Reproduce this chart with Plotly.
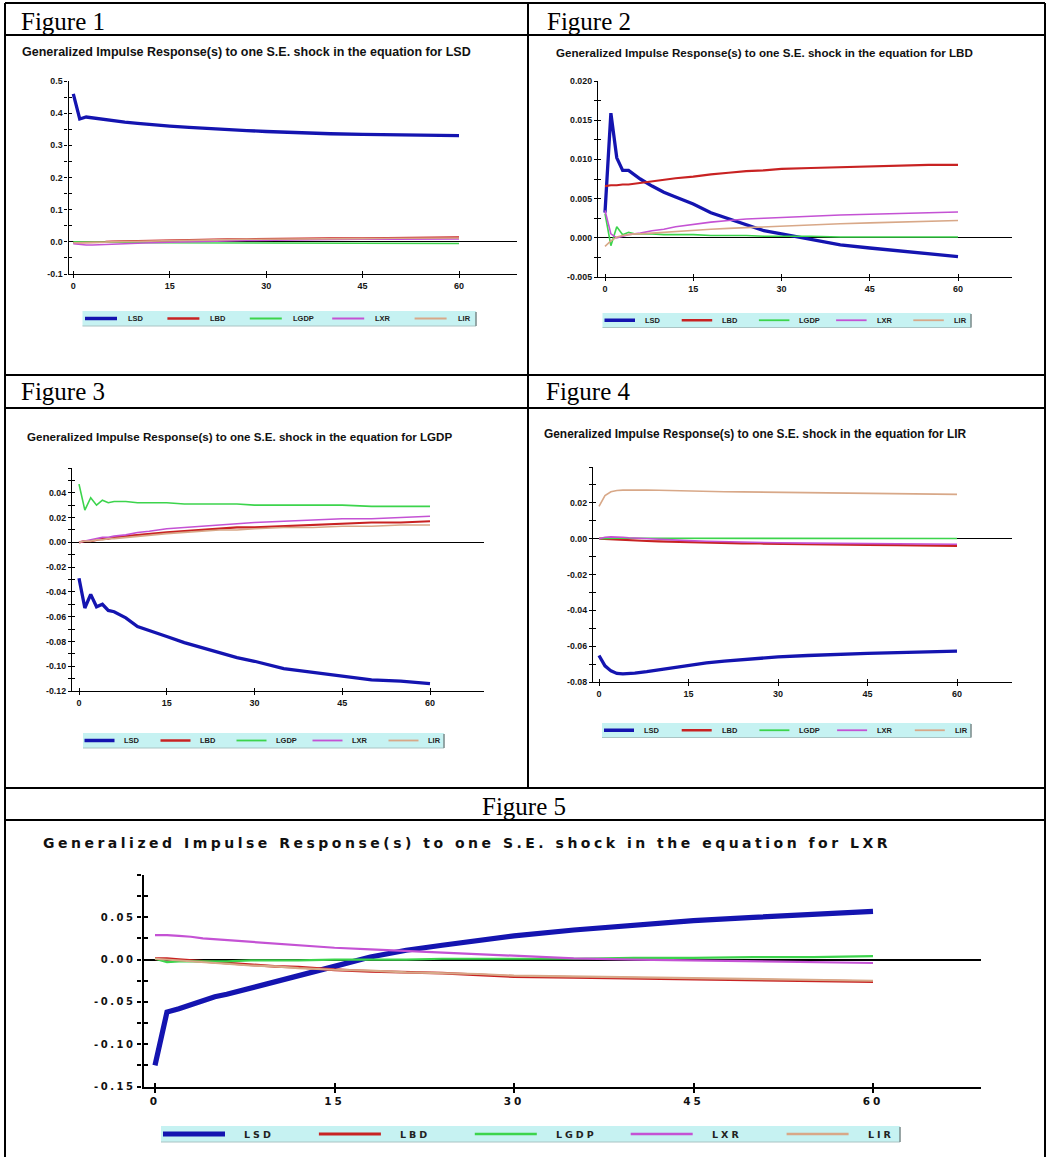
import plotly.graph_objects as go

W, H = 1047, 1157

# ---------------- data ----------------
HORIZON = [0, 1, 2, 3, 4, 5, 6, 8, 10, 12, 15, 18, 21, 24, 27, 30, 35, 40, 45, 50, 55, 60]
SERIES = ["LSD", "LBD", "LGDP", "LXR", "LIR"]
SHOCKS = ["LSD", "LBD", "LGDP", "LIR", "LXR"]
FIGURE_LABELS = ["Figure 1", "Figure 2", "Figure 3", "Figure 4", "Figure 5"]
X_TICKS = [0, 15, 30, 45, 60]
X_TICK_LABELS = ["0", "15", "30", "45", "60"]

# Figure 1: shock in LSD
F1_LSD = [0.460, 0.382, 0.388, 0.385, 0.382, 0.379, 0.377, 0.372, 0.368, 0.364, 0.360, 0.356, 0.352, 0.349, 0.346, 0.343, 0.339, 0.336, 0.334, 0.332, 0.330, 0.330]
F1_LBD = [-0.002, -0.002, -0.001, -0.001, 0.000, 0.000, 0.001, 0.002, 0.003, 0.004, 0.005, 0.006, 0.007, 0.008, 0.008, 0.009, 0.010, 0.011, 0.011, 0.012, 0.013, 0.014]
F1_LGDP = [0.000, 0.000, -0.001, -0.001, -0.001, -0.001, -0.001, -0.002, -0.002, -0.003, -0.003, -0.004, -0.004, -0.005, -0.005, -0.005, -0.005, -0.005, -0.005, -0.005, -0.005, -0.005]
F1_LXR = [-0.006, -0.009, -0.010, -0.010, -0.009, -0.008, -0.008, -0.006, -0.004, -0.003, -0.001, 0.001, 0.002, 0.003, 0.004, 0.005, 0.006, 0.007, 0.008, 0.008, 0.009, 0.009]
F1_LIR = [-0.003, -0.003, -0.002, -0.002, -0.001, -0.001, 0.000, 0.001, 0.002, 0.003, 0.004, 0.005, 0.006, 0.007, 0.008, 0.008, 0.009, 0.010, 0.010, 0.011, 0.011, 0.012]
F1_YTICKS = [-0.1, -0.05, 0.0, 0.05, 0.1, 0.15, 0.2, 0.25, 0.3, 0.35, 0.4, 0.45, 0.5]
F1_YLABELS = ["-0.1", "", "0.0", "", "0.1", "", "0.2", "", "0.3", "", "0.4", "", "0.5"]

# Figure 2: shock in LBD
F2_LSD = [0.0032, 0.0159, 0.0102, 0.0086, 0.0086, 0.0080, 0.0075, 0.0066, 0.0058, 0.0052, 0.0043, 0.0032, 0.0024, 0.0016, 0.0009, 0.0005, -0.0002, -0.0009, -0.0013, -0.0017, -0.0020, -0.0024]
F2_LBD = [0.0066, 0.0067, 0.0067, 0.0068, 0.0068, 0.0069, 0.0070, 0.0072, 0.0074, 0.0076, 0.0078, 0.0081, 0.0083, 0.0085, 0.0086, 0.0088, 0.0089, 0.0090, 0.0091, 0.0092, 0.0093, 0.0093]
F2_LGDP = [0.0031, -0.0010, 0.0014, 0.0004, 0.0007, 0.0005, 0.0005, 0.0005, 0.0004, 0.0004, 0.0004, 0.0003, 0.0003, 0.0003, 0.0002, 0.0002, 0.0002, 0.0001, 0.0001, 0.0001, 0.0001, 0.0001]
F2_LXR = [0.0035, 0.0005, 0.0000, 0.0002, 0.0004, 0.0005, 0.0006, 0.0009, 0.0011, 0.0014, 0.0017, 0.0020, 0.0022, 0.0024, 0.0025, 0.0026, 0.0028, 0.0029, 0.0030, 0.0031, 0.0032, 0.0033]
F2_LIR = [-0.0011, -0.0004, 0.0001, 0.0003, 0.0004, 0.0005, 0.0005, 0.0006, 0.0007, 0.0008, 0.0010, 0.0011, 0.0012, 0.0013, 0.0014, 0.0015, 0.0017, 0.0018, 0.0019, 0.0020, 0.0021, 0.0022]
F2_YTICKS = [-0.005, -0.0025, 0.0, 0.0025, 0.005, 0.0075, 0.01, 0.0125, 0.015, 0.0175, 0.02]
F2_YLABELS = ["-0.005", "", "0.000", "", "0.005", "", "0.010", "", "0.015", "", "0.020"]

# Figure 3: shock in LGDP
F3_LSD = [-0.029, -0.053, -0.042, -0.052, -0.050, -0.055, -0.056, -0.061, -0.068, -0.071, -0.076, -0.081, -0.085, -0.089, -0.093, -0.096, -0.102, -0.105, -0.108, -0.111, -0.112, -0.114]
F3_LBD = [0.000, 0.001, 0.001, 0.002, 0.003, 0.003, 0.004, 0.005, 0.006, 0.007, 0.008, 0.009, 0.010, 0.011, 0.012, 0.012, 0.013, 0.014, 0.015, 0.016, 0.016, 0.017]
F3_LGDP = [0.047, 0.026, 0.036, 0.030, 0.034, 0.032, 0.033, 0.033, 0.032, 0.032, 0.032, 0.031, 0.031, 0.031, 0.031, 0.030, 0.030, 0.030, 0.030, 0.029, 0.029, 0.029]
F3_LXR = [0.000, 0.001, 0.002, 0.003, 0.004, 0.004, 0.005, 0.006, 0.008, 0.009, 0.011, 0.012, 0.013, 0.014, 0.015, 0.016, 0.017, 0.018, 0.019, 0.019, 0.020, 0.021]
F3_LIR = [0.000, 0.001, 0.001, 0.002, 0.002, 0.003, 0.003, 0.004, 0.005, 0.006, 0.007, 0.008, 0.009, 0.010, 0.010, 0.011, 0.012, 0.012, 0.013, 0.013, 0.014, 0.014]
F3_YTICKS = [-0.12, -0.11, -0.10, -0.09, -0.08, -0.07, -0.06, -0.05, -0.04, -0.03, -0.02, -0.01, 0.0, 0.01, 0.02, 0.03, 0.04, 0.05, 0.06]
F3_YLABELS = ["-0.12", "", "-0.10", "", "-0.08", "", "-0.06", "", "-0.04", "", "-0.02", "", "0.00", "", "0.02", "", "0.04", "", ""]

# Figure 4: shock in LIR
F4_LSD = [-0.0652, -0.0710, -0.0738, -0.0752, -0.0755, -0.0753, -0.0750, -0.0742, -0.0732, -0.0722, -0.0705, -0.0693, -0.0683, -0.0675, -0.0668, -0.0660, -0.0652, -0.0645, -0.0640, -0.0636, -0.0631, -0.0628]
F4_LBD = [0.0000, -0.0002, -0.0004, -0.0006, -0.0008, -0.0010, -0.0011, -0.0013, -0.0015, -0.0017, -0.0020, -0.0022, -0.0024, -0.0026, -0.0027, -0.0029, -0.0031, -0.0033, -0.0035, -0.0036, -0.0038, -0.0040]
F4_LGDP = [0.0000, 0.0002, 0.0002, 0.0002, 0.0002, 0.0002, 0.0002, 0.0002, 0.0002, 0.0002, 0.0002, 0.0002, 0.0001, 0.0001, 0.0001, 0.0001, 0.0001, 0.0001, 0.0001, 0.0001, 0.0001, 0.0001]
F4_LXR = [0.0000, 0.0008, 0.0010, 0.0010, 0.0008, 0.0005, 0.0003, -0.0001, -0.0004, -0.0007, -0.0011, -0.0014, -0.0017, -0.0019, -0.0021, -0.0023, -0.0025, -0.0027, -0.0028, -0.0029, -0.0030, -0.0031]
F4_LIR = [0.0180, 0.0240, 0.0262, 0.0269, 0.0271, 0.0272, 0.0272, 0.0271, 0.0270, 0.0268, 0.0265, 0.0263, 0.0262, 0.0261, 0.0260, 0.0259, 0.0257, 0.0255, 0.0253, 0.0251, 0.0249, 0.0247]
F4_YTICKS = [-0.08, -0.07, -0.06, -0.05, -0.04, -0.03, -0.02, -0.01, 0.0, 0.01, 0.02, 0.03, 0.04]
F4_YLABELS = ["-0.08", "", "-0.06", "", "-0.04", "", "-0.02", "", "0.00", "", "0.02", "", ""]

# Figure 5: shock in LXR
F5_LSD = [-0.125, -0.062, -0.058, -0.053, -0.048, -0.044, -0.041, -0.034, -0.027, -0.020, -0.008, 0.003, 0.011, 0.017, 0.023, 0.028, 0.035, 0.041, 0.046, 0.050, 0.054, 0.057]
F5_LBD = [0.001, 0.001, 0.000, -0.001, -0.002, -0.003, -0.004, -0.006, -0.008, -0.009, -0.012, -0.014, -0.015, -0.016, -0.018, -0.020, -0.021, -0.022, -0.023, -0.024, -0.025, -0.026]
F5_LGDP = [0.001, -0.003, -0.002, -0.002, -0.002, -0.002, -0.002, -0.001, -0.001, -0.001, 0.000, 0.000, 0.000, 0.001, 0.001, 0.001, 0.001, 0.002, 0.002, 0.003, 0.003, 0.004]
F5_LXR = [0.029, 0.029, 0.028, 0.027, 0.025, 0.024, 0.023, 0.021, 0.019, 0.017, 0.014, 0.012, 0.010, 0.008, 0.006, 0.004, 0.0015, 0.000, -0.001, -0.002, -0.003, -0.004]
F5_LIR = [0.001, 0.000, -0.001, -0.002, -0.003, -0.004, -0.005, -0.007, -0.008, -0.010, -0.012, -0.013, -0.015, -0.016, -0.017, -0.019, -0.020, -0.021, -0.022, -0.023, -0.024, -0.025]
F5_YTICKS = [-0.15, -0.125, -0.10, -0.075, -0.05, -0.025, 0.0, 0.025, 0.05, 0.075, 0.10]
F5_YLABELS = ["-0.15", "", "-0.10", "", "-0.05", "", "0.00", "", "0.05", "", ""]

PANEL_DATA = [
    ([F1_LSD, F1_LBD, F1_LGDP, F1_LXR, F1_LIR], F1_YTICKS, F1_YLABELS),
    ([F2_LSD, F2_LBD, F2_LGDP, F2_LXR, F2_LIR], F2_YTICKS, F2_YLABELS),
    ([F3_LSD, F3_LBD, F3_LGDP, F3_LXR, F3_LIR], F3_YTICKS, F3_YLABELS),
    ([F4_LSD, F4_LBD, F4_LGDP, F4_LXR, F4_LIR], F4_YTICKS, F4_YLABELS),
    ([F5_LSD, F5_LBD, F5_LGDP, F5_LXR, F5_LIR], F5_YTICKS, F5_YLABELS),
]

# ---------------- styles ----------------
COLORS = ["#1414b0", "#c82222", "#3cd44c", "#c452d4", "#d8a888"]
SMALL_WIDTHS = [3.3, 2.2, 1.6, 1.6, 1.6]
BIG_WIDTHS = [5.2, 2.8, 2.2, 2.2, 2.2]
SMALL_KEY_WIDTHS = [3.5, 2.5, 1.8, 1.8, 1.8]
BIG_KEY_WIDTHS = [5.0, 3.0, 2.4, 2.4, 2.4]
LEGEND_BG = "#c6f2f2"
SANS = "Liberation Sans, Arial, sans-serif"
WIDE = "DejaVu Sans, Verdana, sans-serif"
SERIF = "Liberation Serif, Times New Roman, serif"

# pixel geometry of each panel
PANELS = [
    dict(ax=(68.5, 517), ay=(81, 274), x0=73.3, x60=459, yr=(-0.1, 0.5),
         title=(20, 52, 12.5), head=(19, 21, "left"),
         leg=dict(box=(82.5, 311, 476, 326), start=85, pitch=82.4, length=32, toff=42), big=False),
    dict(ax=(598, 1012), ay=(81, 277), x0=605, x60=958, yr=(-0.005, 0.020),
         title=(554, 52, 11.6), head=(545, 21, "left"),
         leg=dict(box=(602.5, 313, 971, 327.5), start=604.5, pitch=77.2, length=30.5, toff=39.5), big=False),
    dict(ax=(72, 484), ay=(468, 691), x0=79, x60=430, yr=(-0.12, 0.06),
         title=(25, 436, 11.6), head=(19, 392, "left"),
         leg=dict(box=(83, 733, 444, 748), start=84.5, pitch=76, length=30, toff=38), big=False),
    dict(ax=(593, 1012), ay=(467, 682), x0=599, x60=957, yr=(-0.08, 0.04),
         title=(542, 434, 11.9), head=(544, 392, "left"),
         leg=dict(box=(602, 723, 971, 737.5), start=604, pitch=77.7, length=30, toff=39), big=False),
    dict(ax=(143.5, 981), ay=(875, 1086.5), x0=155, x60=873, yr=(-0.15, 0.10),
         title=(41, 843, 14), head=(524, 806, "center"),
         leg=dict(box=(161, 1126, 900, 1142), start=163, pitch=155.9, length=62, toff=80), big=True),
]


def px_x(v):
    return v / W


def px_y(v):
    return 1 - v / H


def spaced(txt, sp):
    if not txt:
        return txt
    return '<span style="letter-spacing:%spx">%s</span>' % (sp, txt)


fig = go.Figure()
annotations = []
shapes = []
layout = dict(
    width=W, height=H, autosize=False,
    margin=dict(l=0, r=0, t=0, b=0, autoexpand=False),
    paper_bgcolor="white", plot_bgcolor="rgba(0,0,0,0)",
    showlegend=False,
)

for i, (p, (vals, yticks, ylabels)) in enumerate(zip(PANELS, PANEL_DATA), start=1):
    big = p["big"]
    unit = (p["x60"] - p["x0"]) / 60.0
    xr = [(p["ax"][0] - p["x0"]) / unit, (p["ax"][1] - p["x0"]) / unit]
    xdom = [px_x(p["ax"][0]), px_x(p["ax"][1])]
    ydom = [px_y(p["ay"][1]), px_y(p["ay"][0])]
    xname = "x" if i == 1 else "x%d" % i
    yname = "y" if i == 1 else "y%d" % i
    xkey = "xaxis" if i == 1 else "xaxis%d" % i
    ykey = "yaxis" if i == 1 else "yaxis%d" % i
    k = i + 5

    widths = BIG_WIDTHS if big else SMALL_WIDTHS
    for s, name in enumerate(SERIES):
        fig.add_trace(go.Scatter(
            x=HORIZON, y=vals[s], mode="lines", name=name,
            line=dict(color=COLORS[s], width=widths[s]),
            xaxis=xname, yaxis=yname, hoverinfo="skip",
        ))
    # overlay subplot used for the inner half of the crossing tick marks
    fig.add_trace(go.Scatter(x=[None], y=[None], mode="lines",
                             xaxis="x%d" % k, yaxis="y%d" % k, hoverinfo="skip"))

    axw = 2.2 if big else 1.4
    tlen = 4 if big else 3
    if big:
        ytick_font = dict(family=WIDE, size=10, color="#111", weight="bold")
        xtick_font = dict(family=WIDE, size=10.5, color="#111", weight="bold")
        ytext = [spaced(t, 2.5) for t in ylabels]
        xtext = [spaced(t, 3) for t in X_TICK_LABELS]
    else:
        ytick_font = dict(family=SANS, size=8.8, color="#151515", weight="bold")
        xtick_font = dict(family=SANS, size=9, color="#151515", weight="bold")
        ytext = ylabels
        xtext = X_TICK_LABELS

    layout[xkey] = dict(
        domain=xdom, range=xr, anchor=yname, showgrid=False, zeroline=False,
        showline=True, linecolor="black", linewidth=axw,
        tickmode="array", tickvals=X_TICKS, ticktext=xtext,
        ticks="outside", ticklen=tlen, tickwidth=axw, tickcolor="black",
        tickfont=xtick_font, fixedrange=True,
    )
    layout[ykey] = dict(
        domain=ydom, range=list(p["yr"]), anchor=xname, showgrid=False,
        zeroline=True, zerolinecolor="black", zerolinewidth=1.6 if big else 1.3,
        showline=True, linecolor="black", linewidth=axw,
        tickmode="array", tickvals=yticks, ticktext=ytext,
        ticks="outside", ticklen=tlen, tickwidth=axw, tickcolor="black",
        tickfont=ytick_font, fixedrange=True,
    )
    layout["xaxis%d" % k] = dict(
        overlaying=xname, anchor="y%d" % k, range=xr, showgrid=False, zeroline=False,
        showline=False, tickmode="array", tickvals=X_TICKS, showticklabels=False,
        ticks="inside", ticklen=tlen, tickwidth=axw, tickcolor="black", fixedrange=True,
    )
    layout["yaxis%d" % k] = dict(
        overlaying=yname, anchor="x%d" % k, range=list(p["yr"]), showgrid=False,
        zeroline=False, showline=False, tickmode="array", tickvals=yticks,
        showticklabels=False, ticks="inside", ticklen=tlen, tickwidth=axw,
        tickcolor="black", fixedrange=True, side="left",
    )

    # key (legend strip) below each chart
    lg = p["leg"]
    bl, bt, br, bb = lg["box"]
    shapes.append(dict(type="rect", xref="paper", yref="paper",
                       x0=px_x(bl), x1=px_x(br), y0=px_y(bb), y1=px_y(bt),
                       fillcolor=LEGEND_BG, line=dict(width=0), layer="below"))
    shapes.append(dict(type="line", xref="paper", yref="paper",
                       x0=px_x(bl), x1=px_x(br), y0=px_y(bb), y1=px_y(bb),
                       line=dict(color="#a9c4c4", width=1.2)))
    shapes.append(dict(type="line", xref="paper", yref="paper",
                       x0=px_x(br), x1=px_x(br), y0=px_y(bb), y1=px_y(bt + 1),
                       line=dict(color="#7f9090", width=1.6)))
    ymid = (bt + bb) / 2.0
    kw = BIG_KEY_WIDTHS if big else SMALL_KEY_WIDTHS
    for s, name in enumerate(SERIES):
        xs = lg["start"] + s * lg["pitch"]
        shapes.append(dict(type="line", xref="paper", yref="paper",
                           x0=px_x(xs), x1=px_x(xs + lg["length"]),
                           y0=px_y(ymid), y1=px_y(ymid),
                           line=dict(color=COLORS[s], width=kw[s])))
        annotations.append(dict(
            xref="paper", yref="paper", x=px_x(xs + lg["toff"] - 1), y=px_y(ymid),
            xanchor="left", yanchor="middle", showarrow=False,
            text=spaced(name, 3) if big else name,
            font=(dict(family=WIDE, size=9.5, color="#222", weight="bold") if big
                  else dict(family=SANS, size=7.5, color="#222", weight="bold")),
        ))

    # chart title
    tx, ty, tsize = p["title"]
    title_txt = "Generalized Impulse Response(s) to one S.E. shock in the equation for " + SHOCKS[i - 1]
    annotations.append(dict(
        xref="paper", yref="paper", x=px_x(tx), y=px_y(ty),
        xanchor="left", yanchor="middle", showarrow=False,
        text=spaced(title_txt, 3.5) if big else title_txt,
        font=(dict(family=WIDE, size=tsize, color="#111", weight="bold") if big
              else dict(family=SANS, size=tsize, color="#111", weight="bold")),
    ))
    # table header
    hx, hy, hanchor = p["head"]
    annotations.append(dict(
        xref="paper", yref="paper", x=px_x(hx), y=px_y(hy),
        xanchor=hanchor, yanchor="middle", showarrow=False,
        text=FIGURE_LABELS[i - 1],
        font=dict(family=SERIF, size=25, color="black"),
    ))

# table rules
TABLE_H = [(5, 1045, 3), (5, 1045, 35), (5, 1045, 375), (5, 1045, 408),
           (5, 1045, 788), (5, 1045, 820)]
TABLE_V = [(5, 3, 1160), (1045, 3, 1160), (528, 3, 788)]
for x0, x1, y in TABLE_H:
    shapes.append(dict(type="line", xref="paper", yref="paper",
                       x0=px_x(x0), x1=px_x(x1), y0=px_y(y), y1=px_y(y),
                       line=dict(color="black", width=2)))
for x, y0, y1 in TABLE_V:
    shapes.append(dict(type="line", xref="paper", yref="paper",
                       x0=px_x(x), x1=px_x(x), y0=px_y(y0), y1=px_y(y1),
                       line=dict(color="black", width=2)))

layout["annotations"] = annotations
layout["shapes"] = shapes
fig.update_layout(**layout)

fig.write_html(
    "out.html",
    config={"displayModeBar": False},
    post_script="document.body.style.margin='0';document.body.style.overflow='hidden';",
)
